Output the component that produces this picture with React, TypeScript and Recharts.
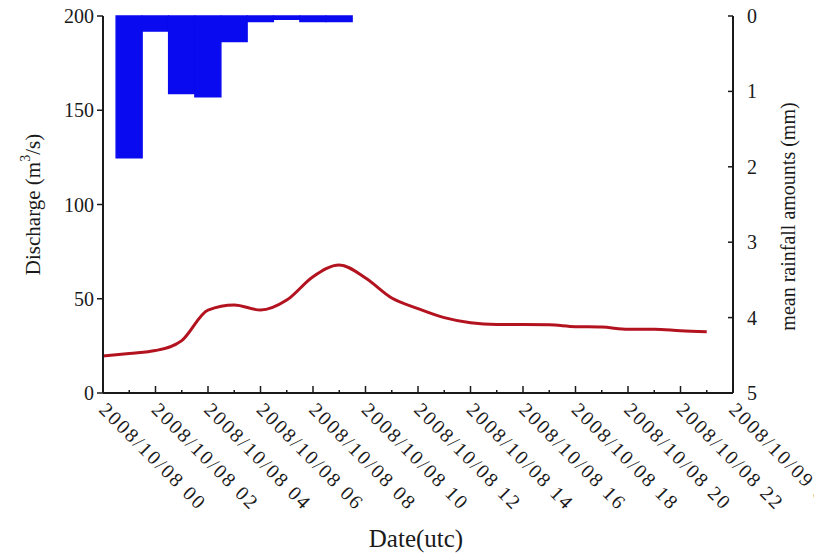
import { Bar, ComposedChart, Label, Line, XAxis, YAxis } from "recharts";

const serif = "'Liberation Serif', 'Times New Roman', serif";
const ink = "#1a1a1a";
const rainBlue = "#0a0af0";

// hourly discharge at the outlet (m3/s), hour 0 = 2008/10/08 00 UTC
const hours = [0, 1, 2, 3, 4, 5, 6, 7, 8, 9, 10, 11, 12, 13, 14, 15, 16, 17, 18, 19, 20, 21, 22, 23];
const discharge = [
  19.6, 21, 22.5, 27.8, 44, 46.7, 44, 49.3, 61.7, 67.9, 61, 50.4, 44.8, 40, 37.3, 36.4, 36.4, 36.2, 35.2, 35,
  33.8, 33.8, 33, 32.5
];

// basin mean rainfall per hour (mm)
const rainHours = [1, 2, 3, 4, 5, 6, 7, 8, 9];
const rainfall = [1.88, 0.2, 1.03, 1.07, 0.34, 0.075, 0.045, 0.075, 0.075];

const tickHours = [0, 1, 2, 3, 4, 5, 6, 7, 8, 9, 10, 11, 12, 13, 14, 15, 16, 17, 18, 19, 20, 21, 22, 23, 24];
const tickLabels = [
  "2008/10/08 00",
  "2008/10/08 02",
  "2008/10/08 04",
  "2008/10/08 06",
  "2008/10/08 08",
  "2008/10/08 10",
  "2008/10/08 12",
  "2008/10/08 14",
  "2008/10/08 16",
  "2008/10/08 18",
  "2008/10/08 20",
  "2008/10/08 22",
  "2008/10/09 00"
];
const dischargeTicks = [0, 50, 100, 150, 200];
const rainTicks = [0, 1, 2, 3, 4, 5];

const rows = tickHours.map((hour) => {
  const qi = hours.indexOf(hour);
  const ri = rainHours.indexOf(hour);
  return {
    hour,
    discharge: qi >= 0 ? discharge[qi] : null,
    rain: ri >= 0 ? rainfall[ri] : null
  };
});

function HourTick(props: any) {
  const { x, y, payload } = props;
  const hour = payload.value as number;
  const major = hour % 2 === 0;
  const lx = x - 5;
  const ly = y + 18;
  return (
    <g>
      <line x1={x} x2={x} y1={y} y2={y - (major ? 7 : 3)} stroke={ink} strokeWidth={1.5} />
      {major && (
        <text
          x={lx}
          y={ly}
          transform={`rotate(45 ${lx} ${ly})`}
          fontFamily={serif}
          fontSize={20}
          letterSpacing={2}
          fill={ink}
        >
          {tickLabels[hour / 2]}
        </text>
      )}
    </g>
  );
}

function RainTick(props: any) {
  const { x, y, payload } = props;
  return (
    <g>
      <line x1={x} x2={x - 5} y1={y} y2={y} stroke={ink} strokeWidth={1.5} />
      <text x={x + 14} y={y} dominantBaseline="central" fontFamily={serif} fontSize={20} fill={ink}>
        {payload.value}
      </text>
    </g>
  );
}

function DischargeTitle({ viewBox }: any) {
  const cx = viewBox.x + 33;
  const cy = viewBox.y + viewBox.height / 2;
  return (
    <text
      x={cx}
      y={cy}
      transform={`rotate(-90 ${cx} ${cy})`}
      textAnchor="middle"
      dominantBaseline="central"
      fontFamily={serif}
      fontSize={21}
      fill={ink}
    >
      Discharge (m<tspan dy={-8} fontSize={14}>3</tspan>
      <tspan dy={8}>/s)</tspan>
    </text>
  );
}

function RainTitle({ viewBox }: any) {
  const cx = viewBox.x + 55;
  const cy = viewBox.y + viewBox.height / 2 + 12;
  return (
    <text
      x={cx}
      y={cy}
      transform={`rotate(-90 ${cx} ${cy})`}
      textAnchor="middle"
      dominantBaseline="central"
      fontFamily={serif}
      fontSize={20}
      fill={ink}
    >
      mean rainfall amounts (mm)
    </text>
  );
}

function DateTitle({ viewBox }: any) {
  return (
    <text
      x={viewBox.x + viewBox.width / 2 - 2}
      y={viewBox.y + viewBox.height - 6}
      textAnchor="middle"
      fontFamily={serif}
      fontSize={25}
      fill={ink}
    >
      Date(utc)
    </text>
  );
}

export default function App() {
  return (
    <div style={{ position: "absolute", left: 0, top: 0, background: "#fff" }}>
      <ComposedChart
        width={814}
        height={553}
        data={rows}
        margin={{ top: 16, right: 0, bottom: 0, left: 0 }}
        barCategoryGap={0}
        barGap={0}
      >
        <XAxis
          dataKey="hour"
          type="number"
          domain={[0, 24]}
          ticks={tickHours}
          interval={0}
          height={160}
          tickSize={0}
          tickMargin={0}
          tickLine={false}
          tick={<HourTick />}
          axisLine={{ stroke: ink, strokeWidth: 2 }}
        >
          <Label content={(p: any) => <DateTitle viewBox={p.viewBox} />} />
        </XAxis>
        <XAxis
          xAxisId="top"
          orientation="top"
          type="number"
          domain={[0, 24]}
          height={0}
          tick={false}
          tickLine={false}
          axisLine={{ stroke: ink, strokeWidth: 2 }}
        />
        <YAxis
          yAxisId="q"
          domain={[0, 200]}
          ticks={dischargeTicks}
          interval={0}
          width={103}
          tickSize={6}
          tickMargin={3}
          tick={{ fill: ink, fontSize: 20, fontFamily: serif }}
          tickLine={{ stroke: ink, strokeWidth: 1.5 }}
          axisLine={{ stroke: ink, strokeWidth: 2 }}
        >
          <Label content={(p: any) => <DischargeTitle viewBox={p.viewBox} />} />
        </YAxis>
        <YAxis
          yAxisId="rain"
          orientation="right"
          domain={[0, 5]}
          reversed
          ticks={rainTicks}
          interval={0}
          width={81}
          tickSize={0}
          tickMargin={0}
          tickLine={false}
          tick={<RainTick />}
          axisLine={{ stroke: ink, strokeWidth: 2 }}
        >
          <Label content={(p: any) => <RainTitle viewBox={p.viewBox} />} />
        </YAxis>
        <Bar
          yAxisId="rain"
          dataKey="rain"
          fill={rainBlue}
          stroke={rainBlue}
          strokeWidth={1.4}
          isAnimationActive={false}
        />
        <Line
          yAxisId="q"
          dataKey="discharge"
          type="monotone"
          stroke="#b3121f"
          strokeWidth={3}
          dot={false}
          isAnimationActive={false}
        />
      </ComposedChart>
    </div>
  );
}
